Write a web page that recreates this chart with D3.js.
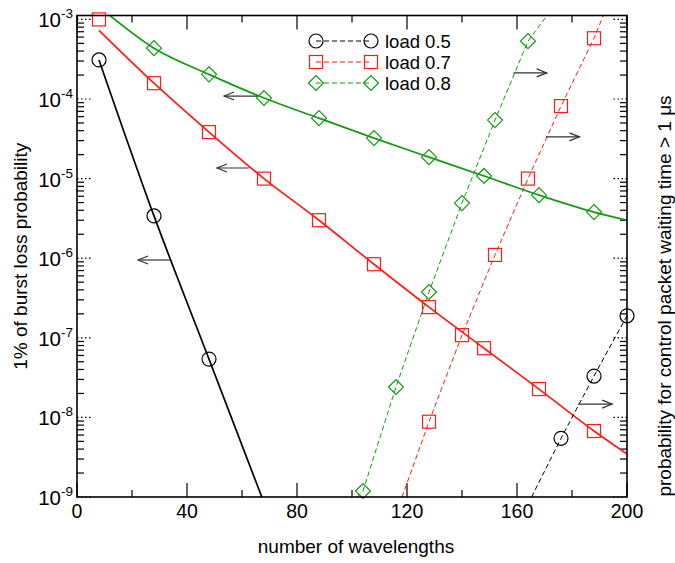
<!DOCTYPE html>
<html>
<head>
<meta charset="utf-8">
<script src="https://cdn.jsdelivr.net/npm/d3@7"></script>
<style>
  body { margin: 0; background: #fff; }
  text { font-family: "Liberation Sans", Arial, Helvetica, sans-serif; fill: #000; }
</style>
</head>
<body>
<div id="chart"></div>
<script>
// marker positions (number of wavelengths)
var xLoad05Left = [8, 28, 48]
var yLoad05Left = [3.1e-4, 3.4e-6, 5.4e-8]
var xLoad07Left = [8, 28, 48, 68, 88, 108, 128, 148, 168, 188]
var yLoad07Left = [1.0e-3, 1.58e-4, 3.84e-5, 1.0e-5, 3.0e-6, 8.4e-7, 2.43e-7, 7.4e-8, 2.27e-8, 6.75e-9]
var xLoad08Left = [28, 48, 68, 88, 108, 128, 148, 168, 188]
var yLoad08Left = [4.35e-4, 2.04e-4, 1.03e-4, 5.75e-5, 3.23e-5, 1.86e-5, 1.08e-5, 6.2e-6, 3.8e-6]

// fitted solid curves
var xFit05 = [8, 28, 48, 67.2]
var yFit05 = [3.1e-4, 3.4e-6, 5.4e-8, 1.0e-9]
var xFit07 = [8, 28, 48, 68, 88, 108, 128, 148, 168, 188, 200]
var yFit07 = [7.3e-4, 1.58e-4, 3.84e-5, 1.0e-5, 3.0e-6, 8.4e-7, 2.43e-7, 7.4e-8, 2.27e-8, 6.75e-9, 3.47e-9]
var xFit08 = [8, 28, 48, 68, 88, 108, 128, 148, 168, 188, 200]
var yFit08 = [1.45e-3, 4.35e-4, 2.04e-4, 1.03e-4, 5.75e-5, 3.23e-5, 1.86e-5, 1.08e-5, 6.2e-6, 3.8e-6, 3.0e-6]

// control packet waiting time (right axis), dashed
var xLoad05Right = [176, 188, 200]
var yLoad05Right = [5.46e-9, 3.31e-8, 1.89e-7]
var xLoad07Right = [128, 140, 152, 164, 176, 188]
var yLoad07Right = [8.83e-9, 1.08e-7, 1.1e-6, 1.0e-5, 8.15e-5, 5.8e-4]
var xLoad08Right = [104, 116, 128, 140, 152, 164]
var yLoad08Right = [1.19e-9, 2.41e-8, 3.76e-7, 4.93e-6, 5.43e-5, 5.33e-4]
// dashed line ends where they leave the frame
var xDash05 = [165.3, 176, 188, 200]
var yDash05 = [1.0e-9, 5.46e-9, 3.31e-8, 1.89e-7]
var xDash07 = [118.2, 128, 140, 152, 164, 176, 188, 191.4]
var yDash07 = [1.0e-9, 8.83e-9, 1.08e-7, 1.1e-6, 1.0e-5, 8.15e-5, 5.8e-4, 1.12e-3]
var xDash08 = [101.8, 104, 116, 128, 140, 152, 164, 170.9]
var yDash08 = [1.0e-9, 1.19e-9, 2.41e-8, 3.76e-7, 4.93e-6, 5.43e-5, 5.33e-4, 1.12e-3]

var legendLabels = ['load 0.5', 'load 0.7', 'load 0.8']
var xTicks = [0, 40, 80, 120, 160, 200]
var xMinorTicks = [20, 60, 100, 140, 180]
var yDecades = [-9, -8, -7, -6, -5, -4, -3]

// arrows: [x from, x to, y]
var arrows = [
  [33.8, 22.2, 9.5e-7],
  [62.5, 50.9, 1.36e-5],
  [65.5, 53.5, 1.09e-4],
  [158.7, 170.8, 2.13e-4],
  [170.5, 182.7, 3.35e-5],
  [182.2, 194.6, 1.47e-8]
]

var margin = { top: 15.5, bottom: 66, left: 77, right: 48 }
var W = 675, H = 563
var width = W - margin.left - margin.right
var height = H - margin.top - margin.bottom

var red = '#ff1a1a'
var green = '#139a13'
var black = '#000'

var xScale = d3.scaleLinear().domain([0, 200]).range([margin.left, margin.left + width])
var yScale = d3.scaleLog().domain([1e-9, 1.12e-3]).range([margin.top + height, margin.top])

var svg = d3.select('#chart').append('svg')
  .attr('width', W)
  .attr('height', H)

svg.append('defs').append('clipPath')
  .attr('id', 'plotclip')
  .append('rect')
  .attr('x', margin.left)
  .attr('y', margin.top)
  .attr('width', width)
  .attr('height', height)

var x0 = margin.left, x1 = margin.left + width
var y0 = margin.top, y1 = margin.top + height

// x ticks (bottom and top, inward)
var ticks = svg.append('g').attr('stroke', '#000').attr('stroke-width', 1.2)
xTicks.forEach(function(v) {
  ticks.append('line').attr('x1', xScale(v)).attr('x2', xScale(v)).attr('y1', y1).attr('y2', y1 - 14)
  ticks.append('line').attr('x1', xScale(v)).attr('x2', xScale(v)).attr('y1', y0).attr('y2', y0 + 14)
})
xMinorTicks.forEach(function(v) {
  ticks.append('line').attr('x1', xScale(v)).attr('x2', xScale(v)).attr('y1', y1).attr('y2', y1 - 7)
  ticks.append('line').attr('x1', xScale(v)).attr('x2', xScale(v)).attr('y1', y0).attr('y2', y0 + 7)
})
// y ticks: minor solid, decades dotted
yDecades.forEach(function(d) {
  var yy = yScale(Math.pow(10, d))
  ticks.append('line').attr('x1', x0).attr('x2', x0 + 14).attr('y1', yy).attr('y2', yy)
    .attr('stroke-dasharray', '1.5,2.5')
  ticks.append('line').attr('x1', x1).attr('x2', x1 - 14).attr('y1', yy).attr('y2', yy)
    .attr('stroke-dasharray', '1.5,2.5')
  if (d < -3) {
    for (var k = 2; k < 10; k++) {
      var ym = yScale(k * Math.pow(10, d))
      ticks.append('line').attr('x1', x0).attr('x2', x0 + 7).attr('y1', ym).attr('y2', ym)
      ticks.append('line').attr('x1', x1).attr('x2', x1 - 7).attr('y1', ym).attr('y2', ym)
    }
  }
})

// tick labels
svg.append('g').selectAll('text').data(xTicks)
  .enter().append('text')
  .attr('x', function(d) { return xScale(d) })
  .attr('y', y1 + 21)
  .attr('text-anchor', 'middle')
  .style('font-size', '19.5px')
  .text(function(d) { return d })

var yl = svg.append('g').selectAll('text').data(yDecades)
  .enter().append('text')
  .attr('x', x0 - 4)
  .attr('y', function(d) { return yScale(Math.pow(10, d)) + 8 })
  .attr('text-anchor', 'end')
  .style('font-size', '20.5px')
yl.append('tspan').text('10')
yl.append('tspan').attr('dy', -9).style('font-size', '13.5px').text(function(d) { return '-' + (-d) })

// curves
var line = d3.line()
  .x(function(d) { return xScale(d[0]) })
  .y(function(d) { return yScale(d[1]) })
var curve = d3.line()
  .x(function(d) { return xScale(d[0]) })
  .y(function(d) { return yScale(d[1]) })
  .curve(d3.curveMonotoneX)

function zip(xs, ys) { return xs.map(function(v, i) { return [v, ys[i]] }) }

var plot = svg.append('g').attr('clip-path', 'url(#plotclip)')
plot.append('path').attr('d', curve(zip(xFit05, yFit05))).attr('fill', 'none').attr('stroke', black).attr('stroke-width', 1.7)
plot.append('path').attr('d', curve(zip(xFit07, yFit07))).attr('fill', 'none').attr('stroke', red).attr('stroke-width', 1.7)
plot.append('path').attr('d', curve(zip(xFit08, yFit08))).attr('fill', 'none').attr('stroke', green).attr('stroke-width', 1.7)
plot.append('path').attr('d', line(zip(xDash05, yDash05))).attr('fill', 'none').attr('stroke', black).attr('stroke-width', 1).attr('stroke-dasharray', '5,3')
plot.append('path').attr('d', line(zip(xDash07, yDash07))).attr('fill', 'none').attr('stroke', red).attr('stroke-width', 1).attr('stroke-dasharray', '5,3')
plot.append('path').attr('d', line(zip(xDash08, yDash08))).attr('fill', 'none').attr('stroke', green).attr('stroke-width', 1).attr('stroke-dasharray', '5,3')

// markers
function marker(g, shape, cx, cy, color) {
  if (shape == 'circle') {
    g.append('circle').attr('cx', cx).attr('cy', cy).attr('r', 7)
      .attr('fill', 'none').attr('stroke', color).attr('stroke-width', 1.2)
  } else if (shape == 'square') {
    g.append('rect').attr('x', cx - 6.5).attr('y', cy - 6.5).attr('width', 13).attr('height', 13)
      .attr('fill', 'none').attr('stroke', color).attr('stroke-width', 1.2)
  } else {
    g.append('path').attr('d', 'M' + (cx - 7.5) + ',' + cy + ' L' + cx + ',' + (cy - 7.5) + ' L' + (cx + 7.5) + ',' + cy + ' L' + cx + ',' + (cy + 7.5) + ' Z')
      .attr('fill', 'none').attr('stroke', color).attr('stroke-width', 1.2)
  }
}
var marks = svg.append('g')
var sets = [
  [xLoad05Left, yLoad05Left, 'circle', black],
  [xLoad07Left, yLoad07Left, 'square', red],
  [xLoad08Left, yLoad08Left, 'diamond', green],
  [xLoad05Right, yLoad05Right, 'circle', black],
  [xLoad07Right, yLoad07Right, 'square', red],
  [xLoad08Right, yLoad08Right, 'diamond', green]
]
sets.forEach(function(s) {
  s[0].forEach(function(v, i) { marker(marks, s[2], xScale(v), yScale(s[1][i]), s[3]) })
})

// arrows
var arr = svg.append('g').attr('stroke', '#333').attr('stroke-width', 1.2).attr('fill', 'none')
arrows.forEach(function(a) {
  var xa = xScale(a[0]), xb = xScale(a[1]), ya = yScale(a[2])
  var dir = xb > xa ? 1 : -1
  arr.append('line').attr('x1', xa).attr('x2', xb).attr('y1', ya).attr('y2', ya)
  arr.append('path').attr('d', 'M' + (xb - dir * 10) + ',' + (ya - 4) + ' L' + xb + ',' + ya + ' L' + (xb - dir * 10) + ',' + (ya + 4))
})

// frame
svg.append('rect')
  .attr('x', x0).attr('y', y0).attr('width', width).attr('height', height)
  .attr('fill', 'none').attr('stroke', '#000').attr('stroke-width', 1.6)

// legend
var legendShapes = ['circle', 'square', 'diamond']
var legendColors = [black, red, green]
var lg = svg.append('g')
legendLabels.forEach(function(t, i) {
  var ly = 41 + i * 21
  lg.append('line').attr('x1', 316).attr('x2', 371).attr('y1', ly).attr('y2', ly)
    .attr('stroke', legendColors[i]).attr('stroke-width', 1).attr('stroke-dasharray', '5,3')
  marker(lg, legendShapes[i], 316, ly, legendColors[i])
  marker(lg, legendShapes[i], 371, ly, legendColors[i])
  lg.append('text').attr('x', 385).attr('y', ly + 7).style('font-size', '18.5px').text(t)
})

// axis titles
svg.append('text')
  .attr('x', 356).attr('y', 553)
  .attr('text-anchor', 'middle')
  .style('font-size', '19px')
  .text('number of wavelengths')
svg.append('text')
  .attr('transform', 'translate(27,' + (y0 + height / 2) + ') rotate(-90)')
  .attr('text-anchor', 'middle')
  .style('font-size', '19px')
  .text('1% of burst loss probability')
svg.append('text')
  .attr('transform', 'translate(671,296) rotate(-90)')
  .attr('text-anchor', 'middle')
  .style('font-size', '19px')
  .text('probability for control packet waiting time > 1 \u03bcs')
</script>
</body>
</html>
